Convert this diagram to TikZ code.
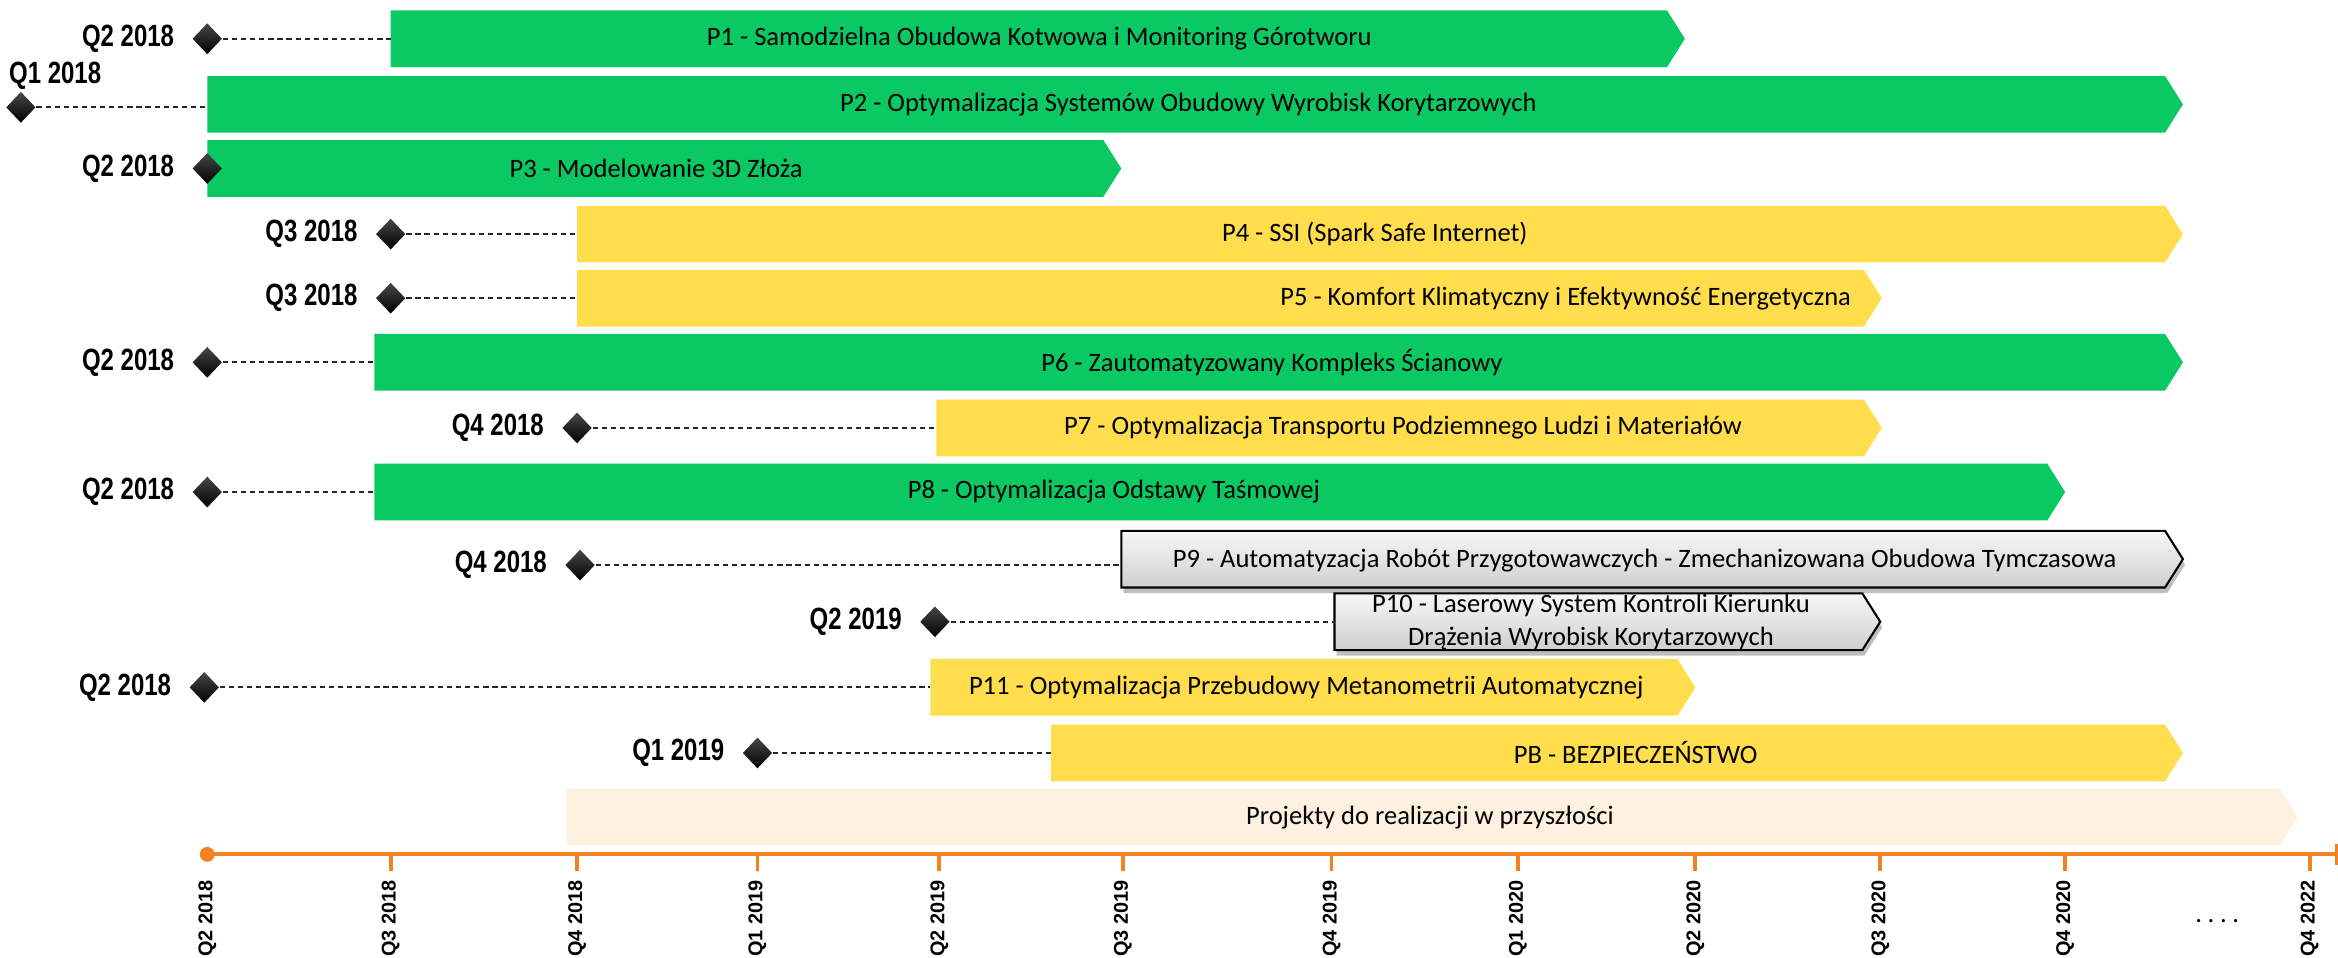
\documentclass[tikz,border=0pt]{standalone}
\usepackage{fontspec}
\setmainfont{Carlito}
\newfontfamily\qfont[FakeStretch=0.78,UprightFont={* Bold}]{Liberation Sans}
\newfontfamily\axisfont[UprightFont={* Bold}]{Liberation Sans}
\usetikzlibrary{shapes.geometric,shadows,positioning}

\definecolor{projgreen}{RGB}{10,200,98}
\definecolor{projyellow}{RGB}{255,221,77}
\definecolor{futurepeach}{RGB}{254,241,224}
\definecolor{axisorange}{RGB}{245,130,32}

% bar: name, style, left x, right x, middle y
\newcommand{\projbar}[5]{%
  \path[#2] (#3,#5-19) -- (#4,#5-19) -- (#4+12,#5) -- (#4,#5+19) -- (#3,#5+19) -- cycle;
  \coordinate (#1) at (#3,#5);}

\begin{document}
\begin{tikzpicture}[x=0.015cm, y=-0.015cm,
  greenbar/.style={fill=projgreen},
  yellowbar/.style={fill=projyellow},
  graybar/.style={draw=black, line width=0.6pt, top color=gray!6, bottom color=gray!38,
    drop shadow={shadow xshift=0.6pt, shadow yshift=-1.6pt, opacity=0.5}},
  bartext/.style={font=\fontsize{7.6}{9.4}\selectfont, inner sep=0pt, align=center},
  milestone/.style={diamond, top color=black!72, bottom color=black, inner sep=0pt,
    minimum width=0.3cm, minimum height=0.315cm},
  qlabel/.style={font=\qfont\fontsize{8.8}{9}\selectfont, inner sep=0pt},
  lead/.style={black!85, line width=0.55pt, dash pattern=on 1.5pt off 1.1pt},
  axis/.style={axisorange, line width=1.1pt},
  axislabel/.style={font=\axisfont\fontsize{5.7}{6}\selectfont, rotate=90, anchor=east, inner sep=0pt}]
\useasboundingbox (0,0) rectangle (1568,642);

% bars
\projbar{p1}{greenbar}{262}{1118}{26}
\node[bartext] (p1txt) at (697,26) {P1 - Samodzielna Obudowa Kotwowa i Monitoring Górotworu};
\projbar{p2}{greenbar}{139}{1452}{70}
\node[bartext] (p2txt) at (797,70) {P2 - Optymalizacja Systemów Obudowy Wyrobisk Korytarzowych};
\projbar{p3}{greenbar}{139}{740}{113}
\node[bartext] (p3txt) at (440,113) {P3 - Modelowanie 3D Złoża};
\projbar{p4}{yellowbar}{387}{1452}{157}
\node[bartext] (p4txt) at (922,157) {P4 - SSI (Spark Safe Internet)};
\projbar{p5}{yellowbar}{387}{1250}{200}
\node[bartext] (p5txt) at (1050,200) {P5 - Komfort Klimatyczny i Efektywność Energetyczna};
\projbar{p6}{greenbar}{251}{1452}{243}
\node[bartext] (p6txt) at (853,243) {P6 - Zautomatyzowany Kompleks Ścianowy};
\projbar{p7}{yellowbar}{628}{1250}{287}
\node[bartext] (p7txt) at (941,287) {P7 - Optymalizacja Transportu Podziemnego Ludzi i Materiałów};
\projbar{p8}{greenbar}{251}{1373}{330}
\node[bartext] (p8txt) at (747,330) {P8 - Optymalizacja Odstawy Taśmowej};
\projbar{p9}{graybar}{752}{1452}{375}
\node[bartext] (p9txt) at (1103,376) {P9 - Automatyzacja Robót Przygotowawczych - Zmechanizowana Obudowa Tymczasowa};
\projbar{p10}{graybar}{895}{1249}{417}
\node[bartext] (p10txt) at (1067,417) {P10 - Laserowy System Kontroli Kierunku\\Drążenia Wyrobisk Korytarzowych};
\projbar{p11}{yellowbar}{624}{1125}{461}
\node[bartext] (p11txt) at (876,461) {P11 - Optymalizacja Przebudowy Metanometrii Automatycznej};
\projbar{pb}{yellowbar}{705}{1452}{505}
\node[bartext] (pbtxt) at (1097,505) {PB - BEZPIECZEŃSTWO};
\projbar{fut}{fill=futurepeach}{380}{1529}{548}
\node[bartext] (futtxt) at (959,548) {Projekty do realizacji w przyszłości};

% milestones
\node[milestone] (m1) at (139,26) {};
\node[qlabel, left=0.17cm of m1] (q1) {Q2 2018};
\draw[lead] (m1) -- (p1);
\node[milestone] (m2) at (14,72) {};
\node[qlabel] (q2) at (37,51) {Q1 2018};
\draw[lead] (m2) -- (m2 -| p2);
\node[milestone] (m3) at (139,113) {};
\node[qlabel, left=0.17cm of m3] (q3) {Q2 2018};
\node[milestone] (m4) at (262,157) {};
\node[qlabel, left=0.17cm of m4] (q4) {Q3 2018};
\draw[lead] (m4) -- (p4);
\node[milestone] (m5) at (262,200) {};
\node[qlabel, left=0.17cm of m5] (q5) {Q3 2018};
\draw[lead] (m5) -- (p5);
\node[milestone] (m6) at (139,243) {};
\node[qlabel, left=0.17cm of m6] (q6) {Q2 2018};
\draw[lead] (m6) -- (p6);
\node[milestone] (m7) at (387,287) {};
\node[qlabel, left=0.17cm of m7] (q7) {Q4 2018};
\draw[lead] (m7) -- (p7);
\node[milestone] (m8) at (139,330) {};
\node[qlabel, left=0.17cm of m8] (q8) {Q2 2018};
\draw[lead] (m8) -- (p8);
\node[milestone] (m9) at (389,379) {};
\node[qlabel, left=0.17cm of m9] (q9) {Q4 2018};
\draw[lead] (m9) -- (p9 |- m9);
\node[milestone] (m10) at (627,417) {};
\node[qlabel, left=0.17cm of m10] (q10) {Q2 2019};
\draw[lead] (m10) -- (p10);
\node[milestone] (m11) at (137,461) {};
\node[qlabel, left=0.17cm of m11] (q11) {Q2 2018};
\draw[lead] (m11) -- (p11);
\node[milestone] (mb) at (508,505) {};
\node[qlabel, left=0.17cm of mb] (qb) {Q1 2019};
\draw[lead] (mb) -- (pb);

% time axis
\draw[axis] (139,573) -- (1567,573);
\draw[axis] (1567,566) -- (1567,580);
\fill[axisorange] (139,573) circle (0.075cm);
\node[axislabel] (t139) at (139,590) {Q2 2018};
\foreach \x/\q in {262/Q3 2018, 387/Q4 2018, 508/Q1 2019, 630/Q2 2019, 753/Q3 2019,
    893/Q4 2019, 1018/Q1 2020, 1137/Q2 2020, 1261/Q3 2020, 1385/Q4 2020, 1549/Q4 2022} {
  \draw[axis] (\x,573) -- (\x,584);
  \node[axislabel] (t\x) at (\x,590) {\q};
}
\node[bartext] (dots) at (1487,618) {.\hspace{1.6pt}.\hspace{1.6pt}.\hspace{1.6pt}.};
\end{tikzpicture}
\end{document}
